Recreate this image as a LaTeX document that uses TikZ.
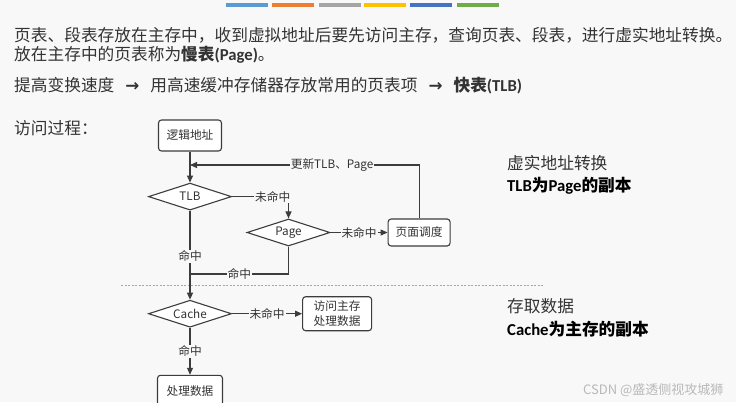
\documentclass[tikz,border=0pt]{standalone}
\usepackage{fontspec}
\setmainfont{Noto Sans CJK SC}
\newfontfamily\latfont{Carlito}
\newfontfamily\arrowfont{DejaVu Sans}
\usetikzlibrary{arrows.meta,positioning,shapes.geometric}
\definecolor{Ink}{HTML}{333333}
\definecolor{Edge}{HTML}{3C3C3C}
\definecolor{Paper}{HTML}{F8F8F8}
\definecolor{BarBlue}{HTML}{5B9BD5}
\definecolor{BarOrange}{HTML}{ED7D31}
\definecolor{BarGray}{HTML}{A5A5A5}
\definecolor{BarGold}{HTML}{FFC000}
\definecolor{BarNavy}{HTML}{4472C4}
\definecolor{BarGreen}{HTML}{70AD47}
\newcommand{\bodysize}{\fontsize{16.7}{20}\selectfont}
\newcommand{\flowsize}{\fontsize{11.7}{15}\selectfont}
\newcommand{\lat}[1]{{\latfont\bfseries #1}}
\newcommand{\thento}{\hspace{11pt}{\arrowfont\bfseries →}\hspace{11pt}}
\tikzset{
  proc/.style={rectangle, rounded corners=3pt, draw=Edge, line width=1.1pt,
    fill=white, minimum width=63pt, minimum height=31pt, inner sep=2pt,
    align=center, font=\flowsize, text=Ink},
  decide/.style={diamond, aspect=3, draw=Edge, line width=1.1pt, fill=white,
    minimum width=83pt, minimum height=27pt, inner sep=0pt, font=\flowsize, text=Ink},
  arrow/.style={-{Triangle[length=7pt,width=6pt]}, line width=1.1pt, draw=Edge},
  link/.style={line width=1.1pt, draw=Edge},
  tag/.style={fill=Paper, inner sep=1pt, font=\flowsize, text=Ink},
  textline/.style={anchor=west, inner sep=0pt, font=\bodysize, text=Ink},
  boldline/.style={textline, font=\bodysize\bfseries, text=black},
  colorbar/.style={line width=3.5pt},
  divider/.style={draw=gray!70, dash pattern=on 2pt off 1.5pt, line width=0.7pt}
}

\begin{document}
\begin{tikzpicture}[x=1pt, y=-1pt]
  \fill[Paper] (0,0) rectangle (736,402);
  \useasboundingbox (0,0) rectangle (736,402);

  % colour bars on top
  \foreach \x/\c in {226/BarBlue, 272/BarOrange, 319/BarGray, 364/BarGold, 410/BarNavy, 457/BarGreen}
    \draw[colorbar, \c] (\x,5) -- ++(41.5,0);

  % text lines
  \node[textline] (intro) at (14,35) {页表、段表存放在主存中，收到虚拟地址后要先访问主存，查询页表、段表，进行虚实地址转换。};
  \node[textline] (slow) at (14,55) {放在主存中的页表称为\textbf{慢表}\lat{(Page)}。};
  \node[textline] (fast) at (14,86) {提高变换速度\thento 用高速缓冲存储器存放常用的页表项\thento\textbf{快表}\lat{(TLB)}};
  \node[textline] (steps) at (14,128) {访问过程：};

  \node[textline] (xlate) at (507,163) {虚实地址转换};
  \node[boldline] (tlbcopy) at (507,186) {\lat{TLB}为\lat{Page}的副本};
  \node[textline] (access) at (507,306) {存取数据};
  \node[boldline] (cachecopy) at (507,329) {\lat{Cache}为主存的副本};

  \node[anchor=west, inner sep=0pt, font=\fontsize{13}{15}\selectfont, text=gray!55] (mark) at (583,390) {CSDN @盛透侧视攻城狮};

  % flow chart
  \node[proc] (logic) at (190,135.5) {逻辑地址};
  \node[decide, below=31pt of logic] (tlb) {TLB};
  \node[decide] (page) at (288.5,232.5) {Page};
  \node[proc, minimum width=62pt, minimum height=27pt, right=57pt of page] (swap) {页面调度};
  \node[decide, below=89pt of tlb] (cache) {Cache};
  \node[proc, minimum width=69pt, minimum height=34pt, right=70pt of cache] (mem) {访问主存\\处理数据};
  \node[proc, minimum width=65pt, below=47pt of cache] (done) {处理数据};

  \coordinate (refresh) at (logic.south |- 0,165);
  \coordinate (rejoin) at (tlb.south |- 0,274);

  \draw[divider] (121,285) -- (544,285);

  \draw[arrow] (logic) -- (tlb);
  \draw[arrow] (swap) |- node[tag, pos=0.69] {更新TLB、Page} (refresh);
  \draw[arrow] (tlb) -| node[tag, pos=0.36] {未命中} (page);
  \draw[arrow] (page) -- node[tag] {未命中} (swap);
  \draw[link] (page) |- node[tag, pos=0.75] {命中} (rejoin);
  \draw[arrow] (tlb) -- node[tag, pos=0.51] {命中} (cache);
  \draw[arrow] (cache) -- node[tag] {未命中} (mem);
  \draw[arrow] (cache) -- node[tag] {命中} (done);
\end{tikzpicture}
\end{document}
